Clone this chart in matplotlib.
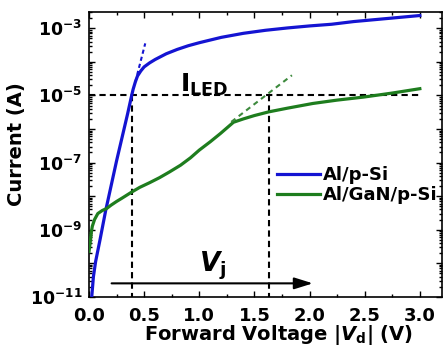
import matplotlib
matplotlib.use("Agg")
import matplotlib.pyplot as plt
import matplotlib.ticker as mticker
import numpy as np

plt.rcParams['font.family'] = ['DejaVu Sans']
plt.rcParams['font.weight'] = 'bold'
plt.rcParams['mathtext.fontset'] = 'custom'
plt.rcParams['mathtext.rm'] = 'DejaVu Sans:bold'
plt.rcParams['mathtext.bf'] = 'DejaVu Sans:bold'
plt.rcParams['mathtext.it'] = 'DejaVu Sans:bold:italic'
plt.rcParams['mathtext.default'] = 'rm'

# ---- data (voltage in V, log10 of current in A) ----
alpsi_v = [0.02, 0.025, 0.04, 0.06, 0.1, 0.15, 0.2, 0.25, 0.3, 0.35, 0.387, 0.40, 0.42,
           0.44, 0.47, 0.5, 0.55, 0.6, 0.7, 0.8, 0.9, 1.0, 1.2, 1.4, 1.6, 1.8, 2.0,
           2.2, 2.4, 2.6, 2.8, 3.0]
alpsi_logi = [-11.3, -11.0, -10.4, -9.95, -9.3, -8.45, -7.7, -6.95, -6.25, -5.55, -5.0, -4.82, -4.6,
              -4.42, -4.27, -4.15, -4.03, -3.93, -3.76, -3.63, -3.52, -3.43, -3.27, -3.15, -3.06,
              -2.99, -2.93, -2.88, -2.8, -2.74, -2.68, -2.62]

algan_v = [0.0, 0.01, 0.02, 0.03, 0.05, 0.08, 0.12, 0.16, 0.2, 0.25, 0.3, 0.387, 0.46, 0.55,
           0.64, 0.73, 0.83, 0.92, 1.0, 1.1, 1.19, 1.25, 1.31, 1.4, 1.5, 1.63, 1.8, 2.03,
           2.25, 2.49, 2.75, 3.0]
algan_logi = [-9.65, -9.4, -9.1, -8.9, -8.7, -8.52, -8.43, -8.37, -8.27, -8.16, -8.06, -7.88,
              -7.74, -7.6, -7.45, -7.28, -7.08, -6.86, -6.63, -6.38, -6.14, -5.97, -5.8, -5.7,
              -5.6, -5.49, -5.38, -5.24, -5.14, -5.05, -4.93, -4.8]

# extrapolation (fit) lines
fit_alpsi_v = [0.42, 0.51]
fit_alpsi_logi = [-4.6, -3.45]
fit_algan_v = [1.29, 1.84]
fit_algan_logi = [-5.79, -4.40]

i_led_logi = -5.0
v_on_alpsi = 0.387
v_on_algan = 1.63
arrow_v = [0.205, 2.03]
arrow_logi = -10.6

labels = ['Al/p-Si', 'Al/GaN/p-Si']
blue = '#1414d2'
green = '#1e7d1e'

fig = plt.figure(figsize=(4.45, 3.58), dpi=100)
ax = fig.add_axes([0.2, 0.171, 0.793, 0.795])

ax.plot(alpsi_v, 10 ** np.array(alpsi_logi), color=blue, lw=2.3, label=labels[0], zorder=3)
ax.plot(algan_v, 10 ** np.array(algan_logi), color=green, lw=2.3, label=labels[1], zorder=3)
ax.plot(fit_alpsi_v, 10 ** np.array(fit_alpsi_logi), color=blue, lw=1.5, dashes=(2, 1.5), zorder=3)
ax.plot(fit_algan_v, 10 ** np.array(fit_algan_logi), color='#3d8a3d', lw=1.5, dashes=(2.5, 2), zorder=3)

# guide lines
ax.plot([0, 3.0], [10 ** i_led_logi] * 2, color='k', lw=1.5, dashes=(3, 2), zorder=2)
ax.plot([v_on_alpsi] * 2, [10 ** i_led_logi, 10 ** -11], color='k', lw=1.5, dashes=(3, 2), zorder=2)
ax.plot([v_on_algan] * 2, [10 ** i_led_logi, 10 ** -11], color='k', lw=1.5, dashes=(3, 2), zorder=2)

ax.annotate('', xy=(arrow_v[1], 10 ** arrow_logi), xytext=(arrow_v[0], 10 ** arrow_logi),
            arrowprops=dict(arrowstyle='-|>,head_length=0.8,head_width=0.25',
                            mutation_scale=14, color='k', lw=1.5, shrinkA=0, shrinkB=0))

ax.text(1.0, 10 ** -10.26, r'$\mathit{V}_{\mathrm{j}}$', fontsize=19, va='baseline', ha='left')
ax.text(0.825, 10 ** -4.9, r'$\mathrm{I}_{\mathrm{LED}}$', fontsize=18, va='baseline', ha='left')

ax.set_yscale('log')
ax.set_xlim(0, 3.2)
ax.set_ylim(1e-11, 10 ** -2.52)

ax.xaxis.set_major_locator(mticker.MultipleLocator(0.5))
ax.xaxis.set_minor_locator(mticker.MultipleLocator(0.25))
ax.xaxis.set_major_formatter(mticker.FormatStrFormatter('%.1f'))

ax.yaxis.set_major_locator(mticker.LogLocator(base=10, numticks=20))
ax.yaxis.set_minor_locator(mticker.LogLocator(base=10, subs=np.arange(2, 10), numticks=20))

def yfmt(y, pos):
    e = int(round(np.log10(y)))
    if e % 2 != 0:
        return r'$\mathbf{10^{%d}}$' % e
    return ''
ax.yaxis.set_major_formatter(mticker.FuncFormatter(yfmt))
ax.yaxis.set_minor_formatter(mticker.NullFormatter())

ax.tick_params(which='both', direction='in', top=True, right=True, width=1)
ax.tick_params(which='major', length=4)
ax.tick_params(which='minor', length=2)
ax.tick_params(axis='x', which='major', labelsize=13, pad=7)
ax.tick_params(axis='y', which='major', labelsize=12.5, pad=5)
for s in ax.spines.values():
    s.set_linewidth(1.2)

ax.set_xlabel(r'Forward Voltage |$\mathit{V}_{\mathrm{d}}$| (V)', fontsize=14, fontweight='bold')
ax.xaxis.set_label_coords(0.538, -0.092)
ax.set_ylabel('Current (A)', fontsize=14, fontweight='bold')
ax.yaxis.set_label_coords(-0.178, 0.536)

leg = ax.legend(loc='center left', bbox_to_anchor=(0.533, 0.393), frameon=False,
                handlelength=2.4, handletextpad=0.15, labelspacing=0.12,
                borderpad=0, borderaxespad=0, prop={'weight': 'bold', 'size': 13})
for line in leg.get_lines():
    line.set_linewidth(2.3)

fig.savefig('out.png', dpi=100)
